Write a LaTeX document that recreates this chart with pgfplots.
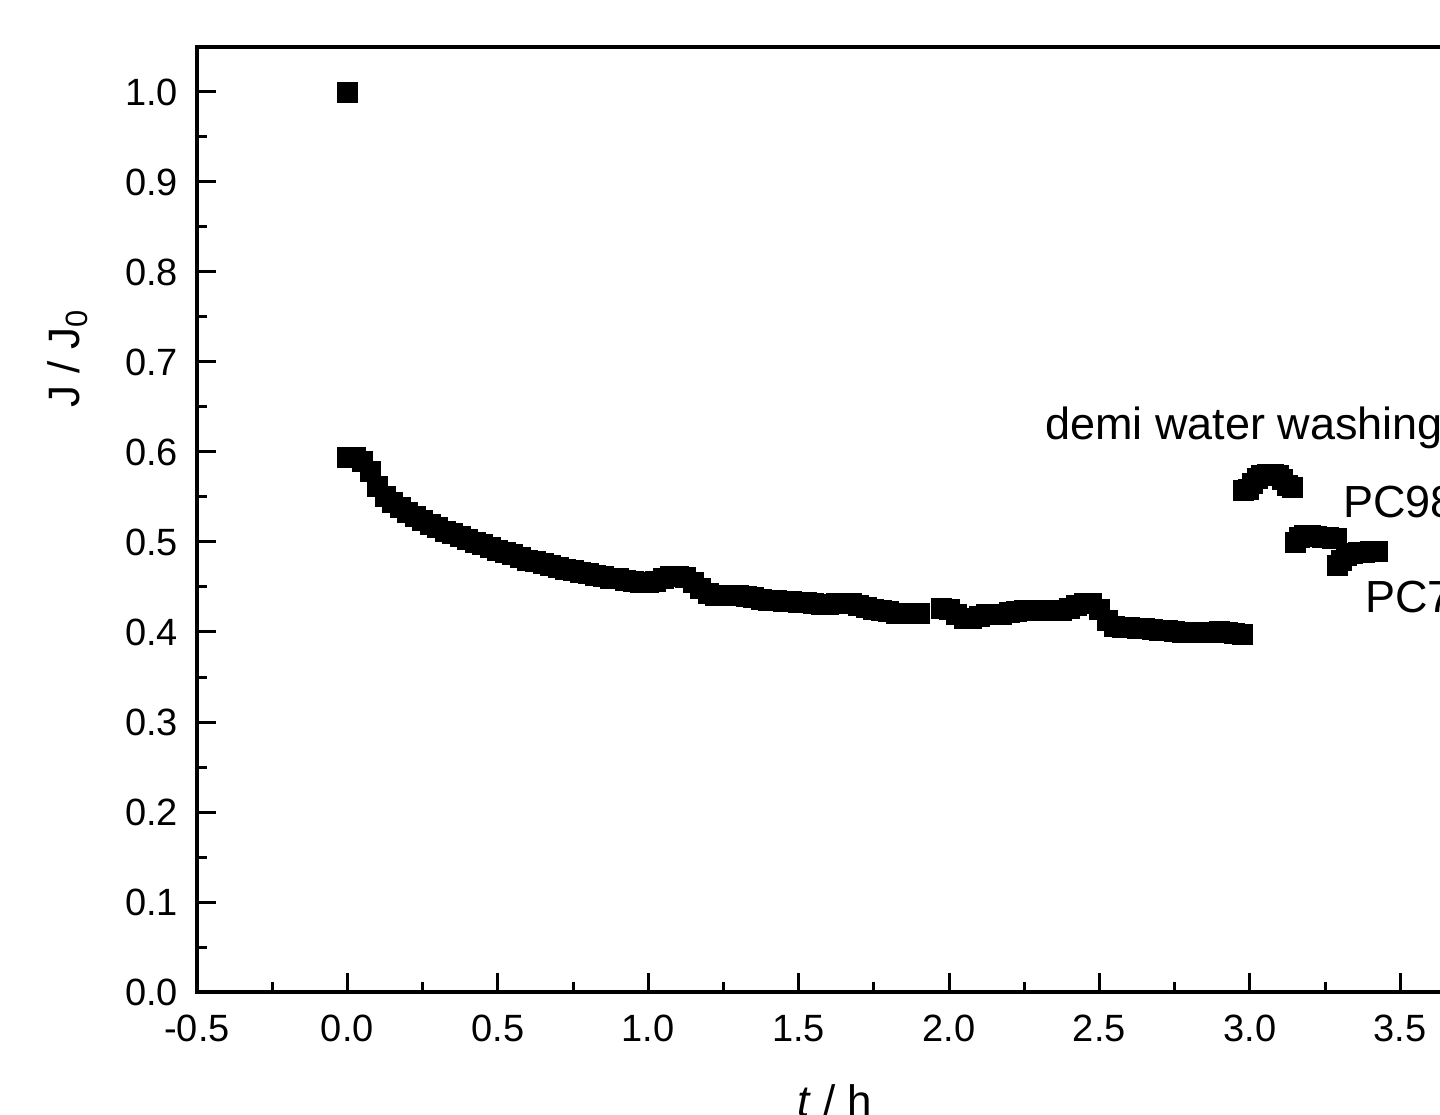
\documentclass[border=0pt]{standalone}
\usepackage{fontspec}
\setmainfont{Liberation Sans}
\usepackage{pgfplots}
\pgfplotsset{compat=1.18}
\usetikzlibrary{calc}

\begin{document}
\begin{tikzpicture}
\begin{axis}[
  name=ax, at={(0,0)}, anchor=south west,
  scale only axis, width=676.8pt, height=472.5pt,
  xmin=-0.5, xmax=4.0, ymin=0, ymax=1.05,
  xtick={-0.5,0,0.5,1,1.5,2,2.5,3,3.5,4},
  ytick={0,0.1,0.2,0.3,0.4,0.5,0.6,0.7,0.8,0.9,1.0},
  minor x tick num=1, minor y tick num=1,
  tick pos=left, tick align=inside,
  major tick length=9.5pt, minor tick length=5pt,
  every tick/.style={black, line width=1.5pt},
  axis line style={line width=1.8pt},
  /pgf/number format/.cd, fixed, fixed zerofill, precision=1,
  assume math mode=true,
  /pgfplots/.cd,
  ticklabel style={font=\fontsize{19}{23}\selectfont},
  xticklabel style={yshift=-8pt},
  yticklabel style={xshift=-6pt},
  clip=false,
]
  % J/J0 over time
  \addplot[only marks, mark=square*, mark size=5pt, black,
           mark options={line width=0.4pt}]
    coordinates {
      (0.000,1.000)
      (0.000,0.594) (0.025,0.594) (0.050,0.590) (0.075,0.578) (0.100,0.562)
      (0.125,0.551) (0.150,0.544) (0.175,0.538) (0.200,0.533) (0.225,0.528)
      (0.250,0.524) (0.275,0.520) (0.300,0.516) (0.325,0.512) (0.350,0.509)
      (0.375,0.506) (0.400,0.503) (0.425,0.500) (0.450,0.497) (0.475,0.494)
      (0.500,0.491) (0.525,0.488) (0.550,0.486) (0.575,0.483) (0.600,0.480)
      (0.625,0.478) (0.650,0.476) (0.675,0.474) (0.700,0.472) (0.725,0.470)
      (0.750,0.468) (0.775,0.466) (0.800,0.465) (0.825,0.463) (0.850,0.462)
      (0.875,0.460) (0.900,0.459) (0.925,0.457) (0.950,0.456) (0.975,0.455)
      (1.000,0.455) (1.025,0.456) (1.050,0.460) (1.075,0.462) (1.100,0.462)
      (1.125,0.461) (1.150,0.455) (1.175,0.448) (1.200,0.443) (1.225,0.441)
      (1.250,0.441) (1.275,0.441) (1.300,0.441) (1.325,0.440) (1.350,0.438)
      (1.375,0.436) (1.400,0.435) (1.425,0.435) (1.450,0.434) (1.475,0.434)
      (1.500,0.433) (1.525,0.433) (1.550,0.432) (1.575,0.431) (1.600,0.431)
      (1.625,0.432) (1.650,0.432) (1.675,0.432) (1.700,0.430) (1.725,0.427)
      (1.750,0.425) (1.775,0.424) (1.800,0.423) (1.825,0.421) (1.850,0.421)
      (1.875,0.421) (1.900,0.421)
      (1.975,0.426) (2.000,0.425) (2.025,0.419) (2.050,0.415) (2.075,0.415)
      (2.100,0.417) (2.125,0.420) (2.150,0.420) (2.175,0.420) (2.200,0.422)
      (2.225,0.423) (2.250,0.424) (2.275,0.424) (2.300,0.424) (2.325,0.424)
      (2.350,0.424) (2.375,0.424) (2.400,0.426) (2.425,0.430) (2.450,0.432)
      (2.475,0.432) (2.500,0.425) (2.525,0.413) (2.550,0.406) (2.575,0.405)
      (2.600,0.405) (2.625,0.404) (2.650,0.404) (2.675,0.403) (2.700,0.402)
      (2.725,0.402) (2.750,0.401) (2.775,0.400) (2.800,0.399) (2.825,0.399)
      (2.850,0.399) (2.875,0.400) (2.900,0.401) (2.925,0.400) (2.950,0.398)
      (2.975,0.397)
      % demi water washing
      (2.980,0.557) (2.995,0.558) (3.010,0.565) (3.025,0.571) (3.040,0.574)
      (3.060,0.575) (3.080,0.575) (3.095,0.574) (3.110,0.569) (3.125,0.563)
      (3.142,0.561)
      % PC98
      (3.152,0.500) (3.165,0.505) (3.180,0.507) (3.200,0.507) (3.220,0.506)
      (3.240,0.505) (3.260,0.505) (3.275,0.504) (3.288,0.504)
      % PC7
      (3.291,0.474) (3.305,0.480) (3.320,0.485) (3.340,0.487) (3.360,0.488)
      (3.380,0.488) (3.400,0.489) (3.425,0.489)
    };

  \node[anchor=base west, inner sep=0pt, font=\fontsize{22.5}{27}\selectfont]
    at (axis cs:2.319,0.6144) {demi water washing};
  \node[anchor=base west, inner sep=0pt, font=\fontsize{22.5}{27}\selectfont]
    at (axis cs:3.31,0.527) {PC98};
  \node[anchor=base west, inner sep=0pt, font=\fontsize{22.5}{27}\selectfont]
    at (axis cs:3.383,0.422) {PC7};

  \node[anchor=base, inner sep=0pt, font=\fontsize{22}{26}\selectfont]
    at (axis cs:1.621,-0.138) {\textit{t} / h};
  \node[anchor=base, rotate=90, inner sep=0pt, font=\fontsize{22}{26}\selectfont]
    at (axis cs:-0.889,0.704) {J / J\textsubscript{0}};
\end{axis}
\pgfresetboundingbox
\path[use as bounding box] ($(ax.south west)+(-98.5pt,-61pt)$)
  rectangle ($(ax.south west)+(621.5pt,496pt)$);
\end{tikzpicture}
\end{document}
